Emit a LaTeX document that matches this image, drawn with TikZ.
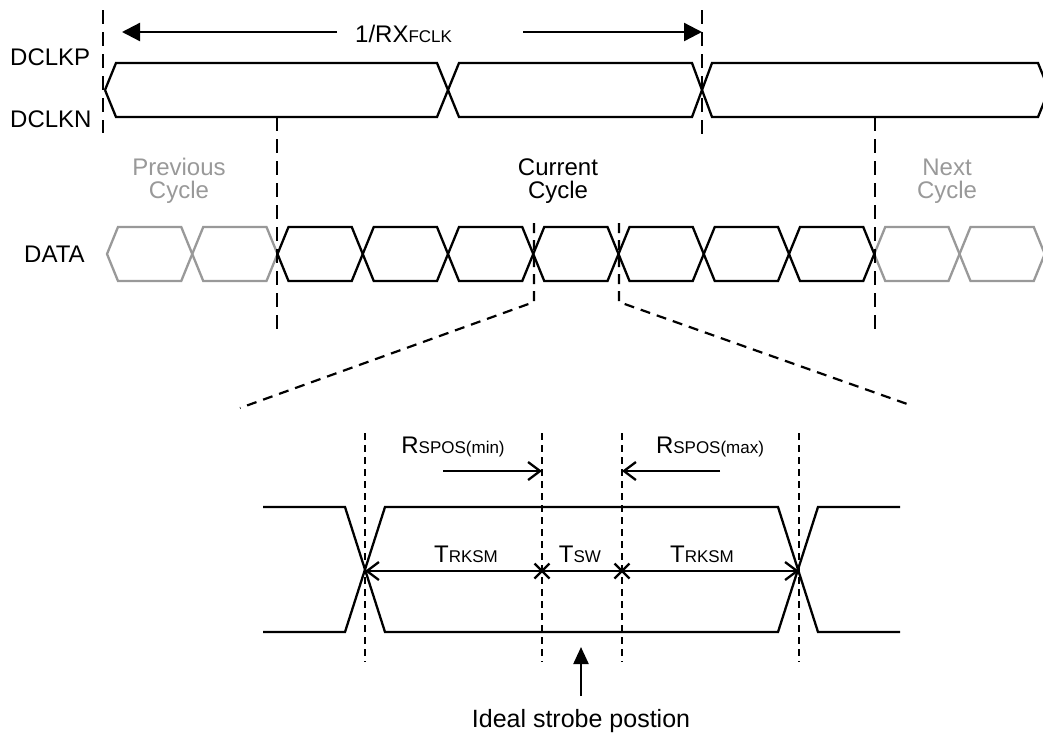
\documentclass[tikz,border=0pt]{standalone}
\usepackage{fontspec}
\setmainfont{Liberation Sans}
\usetikzlibrary{arrows.meta}
\definecolor{ghost}{RGB}{153,153,153}
\newcommand{\bigtxt}{\fontsize{24}{28}\selectfont}
\newcommand{\subtxt}{\fontsize{17}{20}\selectfont}
\begin{document}
\begin{tikzpicture}[x=1pt,y=-1pt,
  wave/.style={line width=2.3pt, line join=miter},
  lbl/.style={inner sep=0pt, anchor=base, font=\bigtxt},
  lblw/.style={inner sep=0pt, anchor=base west, font=\bigtxt},
  longdash/.style={line width=2.2pt, dash pattern=on 14pt off 8pt},
  shortdash/.style={line width=2.2pt, dash pattern=on 7pt off 5pt},
  zoomdash/.style={line width=2.2pt, dash pattern=on 10pt off 7pt},
  bigarrow/.style={line width=2.3pt, -{Triangle[length=18pt,width=18pt]}},
  dimarrow/.style={line width=2.3pt, -{Straight Barb[length=12pt,width=18pt]}},
  dimboth/.style={line width=2.3pt, {Straight Barb[length=12pt,width=18pt]}-{Straight Barb[length=12pt,width=18pt]}},
  crossmark/.style={line width=2.3pt},
]
\useasboundingbox (0,0) rectangle (1043,734);

% ---------------- labels ----------------
\node[lblw] (dclkp) at (10,65) {DCLKP};
\node[lblw] (dclkn) at (10,127) {DCLKN};
\node[lblw] (data) at (24,262) {DATA};
\node[lblw] (period) at (355,42) {1/RX{\subtxt FCLK}};

\node[lbl, text=ghost] (prev1) at (179,175) {Previous};
\node[lbl, text=ghost] (prev2) at (179,198) {Cycle};
\node[lbl] (cur1) at (558,175) {Current};
\node[lbl] (cur2) at (558,198) {Cycle};
\node[lbl, text=ghost] (next1) at (947,175) {Next};
\node[lbl, text=ghost] (next2) at (947,198) {Cycle};

\node[lbl] (rmin) at (453,453) {R{\subtxt SPOS(min)}};
\node[lbl] (rmax) at (710,453) {R{\subtxt SPOS(max)}};
\node[lbl] (trk1) at (466,562) {T{\subtxt RKSM}};
\node[lbl] (tsw) at (580,562) {T{\subtxt SW}};
\node[lbl] (trk2) at (702,562) {T{\subtxt RKSM}};
\node[lbl, font=\fontsize{25}{28}\selectfont] (ideal) at (581,727) {Ideal strobe postion};

% ---------------- period arrows ----------------
\coordinate (pL) at (122,32);
\coordinate (pR) at (702,32);
\coordinate (pLs) at (337,32);
\coordinate (pRs) at (523,32);
\draw[bigarrow] (pLs) -- (pL);
\draw[bigarrow] (pRs) -- (pR);

% ---------------- clock ----------------
\draw[wave] (105,90) -- (116,63) -- (437,63) -- (459,117) -- (692,117) -- (712,63) -- (1038,63) -- (1049,90);
\draw[wave] (105,90) -- (116,117) -- (437,117) -- (459,63) -- (692,63) -- (712,117) -- (1038,117) -- (1049,90);

% ---------------- data ----------------
\foreach \i in {0,1,9,10} {
  \pgfmathsetmacro\a{107+85.25*\i}
  \pgfmathsetmacro\b{107+85.25*(\i+1)}
  \draw[wave,ghost] (\a,254) -- ({\a+11},227) -- ({\b-11},227) -- (\b,254) -- ({\b-11},281) -- ({\a+11},281) -- cycle;
}
\foreach \i in {2,...,8} {
  \pgfmathsetmacro\a{107+85.25*\i}
  \pgfmathsetmacro\b{107+85.25*(\i+1)}
  \draw[wave] (\a,254) -- ({\a+11},227) -- ({\b-11},227) -- (\b,254) -- ({\b-11},281) -- ({\a+11},281) -- cycle;
}

% ---------------- dashed guides (top) ----------------
\draw[longdash] (103,10) -- (103,133);
\draw[longdash] (702,10) -- (702,137);
\draw[longdash] (277,117) -- (277,330);
\draw[longdash] (875,117) -- (875,330);
\draw[zoomdash] (534,223) -- (534,302) -- (240,408);
\draw[zoomdash] (619,223) -- (619,302) -- (910,405);

% ---------------- eye ----------------
\draw[wave] (263,507) -- (345,507) -- (385,632) -- (778,632) -- (818,507) -- (900,507);
\draw[wave] (263,632) -- (345,632) -- (385,507) -- (778,507) -- (818,632) -- (900,632);

\foreach \x in {365,542,622,799} {
  \draw[shortdash] (\x,433) -- (\x,662);
}

\coordinate (eL) at (365,571);
\coordinate (eR) at (799,571);
\coordinate (x1) at (542,571);
\coordinate (x2) at (622,571);
\draw[dimboth] (eL) -- (eR);
\draw[crossmark] (x1) +(-7.5,-7.5) -- +(7.5,7.5) (x1) +(-7.5,7.5) -- +(7.5,-7.5);
\draw[crossmark] (x2) +(-7.5,-7.5) -- +(7.5,7.5) (x2) +(-7.5,7.5) -- +(7.5,-7.5);

\coordinate (rminS) at (443,471);
\coordinate (rminE) at (542,471);
\coordinate (rmaxS) at (720,471);
\coordinate (rmaxE) at (622,471);
\draw[dimarrow] (rminS) -- (rminE);
\draw[dimarrow] (rmaxS) -- (rmaxE);

\coordinate (strobeS) at (581,696);
\coordinate (strobeE) at (581,647);
\draw[line width=2.3pt, -{Triangle[length=17pt,width=15pt]}] (strobeS) -- (strobeE);
\end{tikzpicture}
\end{document}
